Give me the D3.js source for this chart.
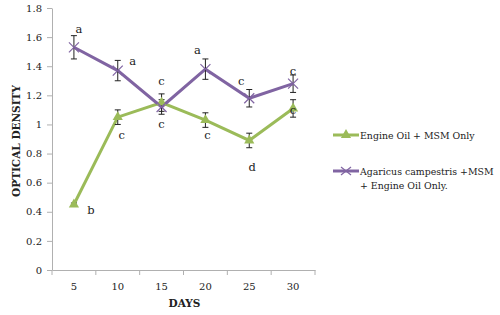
<!DOCTYPE html>
<html>
<head>
<meta charset="utf-8">
<script src="https://cdn.jsdelivr.net/npm/d3@7"></script>
<style>
  body { margin: 0; background: #fff; }
  text { font-family: "DejaVu Serif", "Liberation Serif", serif; fill: #222; }
</style>
</head>
<body>
<div id="chart"></div>
<script>
// -------- Data --------
const days = ['5', '10', '15', '20', '25', '30'];
const yTicks = [0, 0.2, 0.4, 0.6, 0.8, 1, 1.2, 1.4, 1.6, 1.8];

const oilValues   = [0.45, 1.05, 1.15, 1.03, 0.89, 1.11];
const oilErrors   = [0.01, 0.05, 0.06, 0.05, 0.05, 0.06];
const oilLetters  = ['b', 'c', 'c', 'c', 'd', 'c'];

const agarValues  = [1.53, 1.37, 1.12, 1.38, 1.18, 1.28];
const agarErrors  = [0.08, 0.07, 0.05, 0.07, 0.06, 0.06];
const agarLetters = ['a', 'a', 'c', 'a', 'c', 'c'];

// -------- Dimensions --------
const margin = { top: 8, right: 185, bottom: 45, left: 52 };
const svgWidth = 500, svgHeight = 315;
const width  = svgWidth - margin.left - margin.right;
const height = svgHeight - margin.top - margin.bottom;

const svg = d3.select('#chart').append('svg')
  .attr('width', svgWidth)
  .attr('height', svgHeight);

const ctr = svg.append('g')
  .attr('transform', `translate(${margin.left},${margin.top})`);

// -------- Scales --------
const x = d3.scaleBand().domain(days).range([0, width]);
const y = d3.scaleLinear().domain([0, 1.8]).range([height, 0]);
const cx = d => x(d) + x.bandwidth() / 2;

// -------- Axes --------
const yAxis = ctr.append('g')
  .call(d3.axisLeft(y).tickValues(yTicks).tickFormat(d3.format('~g')).tickSize(5).tickSizeOuter(0));
const xAxis = ctr.append('g')
  .attr('transform', `translate(0,${height})`)
  .call(d3.axisBottom(x).tickSize(0).tickSizeOuter(0));

[yAxis, xAxis].forEach(a => {
  a.select('.domain').attr('stroke', '#b0b0b0');
  a.selectAll('line').attr('stroke', '#b0b0b0');
  a.selectAll('text').style('font-size', '10px').attr('fill', '#222');
});
yAxis.selectAll('text').attr('x', -10);
xAxis.selectAll('text').attr('dy', '1.7em');

// x tick marks on band boundaries
ctr.append('g').selectAll('line')
  .data(days.map(d => x(d)).concat([width]))
  .join('line')
    .attr('x1', d => d).attr('x2', d => d)
    .attr('y1', height).attr('y2', height + 5)
    .attr('stroke', '#b0b0b0');

// axis titles
svg.append('text')
  .attr('transform', `translate(20,${margin.top + height / 2 + 2}) rotate(-90)`)
  .attr('text-anchor', 'middle')
  .style('font-size', '10.5px').style('font-weight', 'bold')
  .text('OPTICAL DENSITY');
svg.append('text')
  .attr('x', margin.left + width / 2 + 1).attr('y', 307)
  .attr('text-anchor', 'middle')
  .style('font-size', '10.5px').style('font-weight', 'bold')
  .text('DAYS');

// -------- Series --------
const series = [
  { name: 'oil', values: oilValues, errors: oilErrors, color: '#9BBB59' },
  { name: 'agar', values: agarValues, errors: agarErrors, color: '#8064A2' }
];

const line = d3.line().x((d, i) => cx(days[i])).y(d => y(d));

series.forEach(s => {
  ctr.append('path')
    .datum(s.values)
    .attr('fill', 'none')
    .attr('stroke', s.color)
    .attr('stroke-width', 3)
    .attr('d', line);
});

// error bars
series.forEach(s => {
  const g = ctr.append('g').attr('stroke', '#222').attr('stroke-width', 1);
  s.values.forEach((v, i) => {
    const px = cx(days[i]);
    const y1 = y(v - s.errors[i]), y2 = y(v + s.errors[i]);
    g.append('line').attr('x1', px).attr('x2', px).attr('y1', y1).attr('y2', y2);
    g.append('line').attr('x1', px - 3).attr('x2', px + 3).attr('y1', y1).attr('y2', y1);
    g.append('line').attr('x1', px - 3).attr('x2', px + 3).attr('y1', y2).attr('y2', y2);
  });
});

// markers
const tri = d3.symbol().type(d3.symbolTriangle).size(45);
ctr.append('g').selectAll('path')
  .data(oilValues)
  .join('path')
    .attr('transform', (d, i) => `translate(${cx(days[i])},${y(d)})`)
    .attr('d', tri())
    .attr('fill', '#9BBB59');

ctr.append('g').selectAll('g')
  .data(agarValues)
  .join('g')
    .attr('transform', (d, i) => `translate(${cx(days[i])},${y(d)})`)
    .call(g => {
      g.append('line').attr('x1', -5).attr('y1', -5).attr('x2', 5).attr('y2', 5);
      g.append('line').attr('x1', -5).attr('y1', 5).attr('x2', 5).attr('y2', -5);
    })
    .attr('stroke', '#8064A2').attr('stroke-width', 1.2);

// significance letters
const agarOffsets = [[5, -14], [15, -6], [0, -22], [-8, -15], [-8, -13], [0, -9]];
const oilOffsets  = [[17, 9], [4, 22], [0, 25], [2, 19], [3, 31], [0, 6]];

ctr.append('g').selectAll('text')
  .data(agarLetters)
  .join('text')
    .attr('x', (d, i) => cx(days[i]) + agarOffsets[i][0])
    .attr('y', (d, i) => y(agarValues[i]) + agarOffsets[i][1])
    .attr('text-anchor', 'middle')
    .style('font-size', '11.5px')
    .text(d => d);

ctr.append('g').selectAll('text')
  .data(oilLetters)
  .join('text')
    .attr('x', (d, i) => cx(days[i]) + oilOffsets[i][0])
    .attr('y', (d, i) => y(oilValues[i]) + oilOffsets[i][1])
    .attr('text-anchor', 'middle')
    .style('font-size', '11.5px')
    .text(d => d);

// -------- Legend --------
const legend = svg.append('g').attr('transform', 'translate(333,135)');
legend.append('line').attr('x1', 0).attr('x2', 26).attr('y1', 0).attr('y2', 0)
  .attr('stroke', '#9BBB59').attr('stroke-width', 3);
legend.append('path').attr('transform', 'translate(13,0)').attr('d', tri()).attr('fill', '#9BBB59');
legend.append('text').attr('x', 27).attr('y', 4).style('font-size', '9.4px').text('Engine Oil + MSM Only');

const leg2 = legend.append('g').attr('transform', 'translate(0,36)');
leg2.append('line').attr('x1', 0).attr('x2', 26).attr('y1', 0).attr('y2', 0)
  .attr('stroke', '#8064A2').attr('stroke-width', 3);
leg2.append('g').attr('transform', 'translate(13,0)').attr('stroke', '#8064A2').attr('stroke-width', 1.2)
  .call(g => {
    g.append('line').attr('x1', -5).attr('y1', -4).attr('x2', 5).attr('y2', 4);
    g.append('line').attr('x1', -5).attr('y1', 4).attr('x2', 5).attr('y2', -4);
  });
leg2.append('text').attr('x', 27).attr('y', 4).style('font-size', '9.4px').text('Agaricus campestris +MSM');
leg2.append('text').attr('x', 27).attr('y', 18).style('font-size', '9.4px').text('+ Engine Oil Only.');
</script>
</body>
</html>
